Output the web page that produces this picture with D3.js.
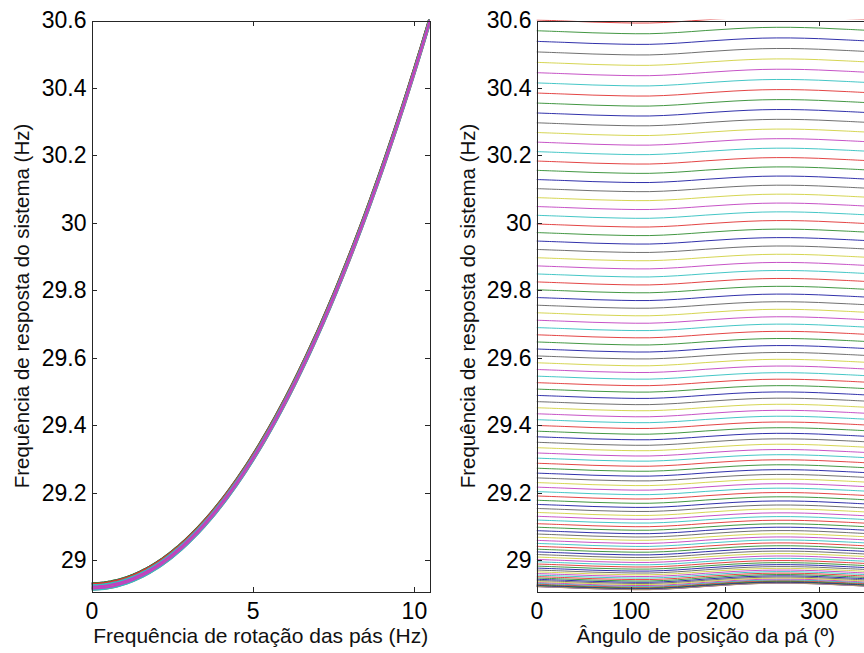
<!DOCTYPE html>
<html>
<head>
<meta charset="utf-8">
<script src="https://cdn.jsdelivr.net/npm/d3@7"></script>
<style>
  html, body { margin: 0; padding: 0; background: #fff; overflow: hidden; }
  svg { display: block; font-family: "Liberation Sans", Arial, sans-serif; }
  .axis path, .axis line { stroke: #262626; shape-rendering: crispEdges; }
  .axis text { fill: #000; font-size: 23px; }
</style>
</head>
<body>
<div id="chart"></div>
<script>
// blade rotation frequency of each run (Hz)
var rotationHz = [
  0.0, 0.1, 0.2, 0.3, 0.4, 0.5, 0.6, 0.7, 0.8, 0.9,
  1.0, 1.1, 1.2, 1.3, 1.4, 1.5, 1.6, 1.7, 1.8, 1.9,
  2.0, 2.1, 2.2, 2.3, 2.4, 2.5, 2.6, 2.7, 2.8, 2.9,
  3.0, 3.1, 3.2, 3.3, 3.4, 3.5, 3.6, 3.7, 3.8, 3.9,
  4.0, 4.1, 4.2, 4.3, 4.4, 4.5, 4.6, 4.7, 4.8, 4.9,
  5.0, 5.1, 5.2, 5.3, 5.4, 5.5, 5.6, 5.7, 5.8, 5.9,
  6.0, 6.1, 6.2, 6.3, 6.4, 6.5, 6.6, 6.7, 6.8, 6.9,
  7.0, 7.1, 7.2, 7.3, 7.4, 7.5, 7.6, 7.7, 7.8, 7.9,
  8.0, 8.1, 8.2, 8.3, 8.4, 8.5, 8.6, 8.7, 8.8, 8.9,
  9.0, 9.1, 9.2, 9.3, 9.4, 9.5, 9.6, 9.7, 9.8, 9.9,
  10.0, 10.1, 10.2, 10.3, 10.4, 10.5
];

// mean system response frequency for each rotation frequency (Hz)
var responseHz = [
  28.9230, 28.9232, 28.9236, 28.9244, 28.9254, 28.9268, 28.9285, 28.9305, 28.9327, 28.9353,
  28.9382, 28.9414, 28.9449, 28.9487, 28.9529, 28.9573, 28.9620, 28.9670, 28.9723, 28.9780,
  28.9839, 28.9902, 28.9967, 29.0036, 29.0107, 29.0182, 29.0260, 29.0340, 29.0424, 29.0511,
  29.0601, 29.0694, 29.0790, 29.0889, 29.0991, 29.1096, 29.1204, 29.1315, 29.1429, 29.1547,
  29.1667, 29.1790, 29.1917, 29.2046, 29.2179, 29.2314, 29.2453, 29.2594, 29.2739, 29.2887,
  29.3038, 29.3191, 29.3348, 29.3508, 29.3671, 29.3837, 29.4006, 29.4178, 29.4353, 29.4532,
  29.4713, 29.4897, 29.5084, 29.5275, 29.5468, 29.5665, 29.5864, 29.6067, 29.6272, 29.6481,
  29.6693, 29.6907, 29.7125, 29.7346, 29.7570, 29.7797, 29.8027, 29.8260, 29.8496, 29.8735,
  29.8977, 29.9222, 29.9471, 29.9722, 29.9976, 30.0234, 30.0494, 30.0758, 30.1024, 30.1294,
  30.1566, 30.1842, 30.2121, 30.2402, 30.2687, 30.2975, 30.3266, 30.3560, 30.3857, 30.4157,
  30.4460, 30.4766, 30.5075, 30.5388, 30.5703, 30.6021
];

// blade position angle (deg) and the change of response frequency it causes (Hz)
var angleDeg = [0, 30, 60, 90, 120, 150, 180, 210, 240, 270, 300, 330, 360];
var angleOffsetHz = [-0.0006, -0.0036, -0.0068, -0.0089, -0.0095, -0.0059, 0.0000,
                     0.0053, 0.0089, 0.0095, 0.0074, 0.0036, -0.0006];

// tick labels
var yTicks = [29, 29.2, 29.4, 29.6, 29.8, 30, 30.2, 30.4, 30.6];
var xTicksLeft = [0, 5, 10];
var xTicksRight = [0, 100, 200, 300];

// matlab line colour order
var colorOrder = ["#1a1aa0", "#2e8b2e", "#e03030", "#30c0c0", "#c040c0", "#d0d040", "#606060"];

var width = 864, height = 653;
var plotTop = 20.5, plotBottom = 591.5;

var svg = d3.select("#chart").append("svg")
  .attr("width", width)
  .attr("height", height);

var y = d3.scaleLinear().domain([28.908, 30.6]).range([plotBottom, plotTop]);

function drawPanel(opts) {
  var x = d3.scaleLinear().domain(opts.domain).range([opts.left, opts.right]);
  var g = svg.append("g");

  var clipId = "clip" + opts.id;
  svg.append("clipPath").attr("id", clipId)
    .append("rect")
    .attr("x", opts.left).attr("y", plotTop - 1)
    .attr("width", opts.right - opts.left).attr("height", plotBottom - plotTop + 1);

  var lines = g.append("g").attr("clip-path", "url(#" + clipId + ")");
  var line = d3.line()
    .x(function(d) { return x(d[0]); })
    .y(function(d) { return y(d[1]); })
    .curve(opts.curve);

  lines.selectAll("path")
    .data(opts.series)
    .enter().append("path")
    .attr("fill", "none")
    .attr("stroke", function(d, i) { return colorOrder[(i + opts.colorShift) % colorOrder.length]; })
    .attr("stroke-width", opts.lineWidth)
    .attr("d", line);

  // box and ticks (inward, mirrored)
  g.append("g").attr("class", "axis")
    .attr("transform", "translate(0," + plotBottom + ")")
    .call(d3.axisBottom(x).tickValues(opts.xTicks).tickSizeInner(-5).tickSizeOuter(0).tickPadding(11)
      .tickFormat(d3.format("d")));
  g.append("g").attr("class", "axis")
    .attr("transform", "translate(0," + plotTop + ")")
    .call(d3.axisTop(x).tickValues(opts.xTicks).tickSizeInner(-5).tickSizeOuter(0).tickFormat(""));
  g.append("g").attr("class", "axis")
    .attr("transform", "translate(" + opts.left + ",0)")
    .call(d3.axisLeft(y).tickValues(yTicks).tickSizeInner(-5).tickSizeOuter(0).tickPadding(5)
      .tickFormat(function(d) { return String(+d.toFixed(1)); }));
  g.append("g").attr("class", "axis")
    .attr("transform", "translate(" + opts.right + ",0)")
    .call(d3.axisRight(y).tickValues(yTicks).tickSizeInner(-5).tickSizeOuter(0).tickFormat(""));

  g.selectAll(".axis text").attr("fill", "#000");
  g.selectAll(".axis .domain").attr("stroke", "#262626");

  // axis titles
  g.append("text")
    .attr("x", (opts.left + opts.right) / 2)
    .attr("y", 643)
    .attr("text-anchor", "middle")
    .attr("font-size", 21)
    .attr("fill", "#111")
    .text(opts.xLabel);

  g.append("text")
    .attr("transform", "translate(" + opts.yLabelX + "," + ((plotTop + plotBottom) / 2) + ") rotate(-90)")
    .attr("text-anchor", "middle")
    .attr("font-size", 20.5)
    .attr("fill", "#111")
    .text("Frequência de resposta do sistema (Hz)");
}

// left: one curve per blade angle, against rotation frequency
var seriesByAngle = angleDeg.map(function(a, j) {
  return rotationHz.map(function(r, i) { return [r, responseHz[i] + angleOffsetHz[j]]; });
});

// right: one curve per rotation frequency, against blade angle
var seriesByRotation = rotationHz.map(function(r, i) {
  return angleDeg.map(function(a, j) { return [a, responseHz[i] + angleOffsetHz[j]]; });
});

drawPanel({
  id: "L", left: 91.5, right: 430, domain: [0, 10.5],
  xTicks: xTicksLeft, series: seriesByAngle, curve: d3.curveLinear,
  colorShift: 6, lineWidth: 2.2,
  xLabel: "Frequência de rotação das pás (Hz)", yLabelX: 29
});

drawPanel({
  id: "R", left: 536.5, right: 875, domain: [0, 360],
  xTicks: xTicksRight, series: seriesByRotation, curve: d3.curveCatmullRom,
  colorShift: 2, lineWidth: 0.9,
  xLabel: "Ângulo de posição da pá (º)", yLabelX: 475
});
</script>
</body>
</html>
